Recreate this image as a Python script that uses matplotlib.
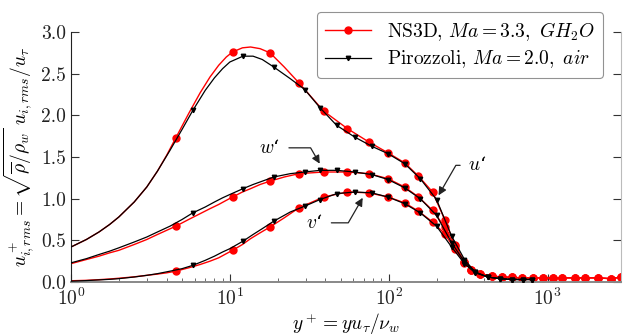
import numpy as np
import matplotlib
matplotlib.use("Agg")
import matplotlib.pyplot as plt
from matplotlib.ticker import FormatStrFormatter, LogLocator

plt.rcParams["font.family"] = ["cmr10", "DejaVu Serif"]
plt.rcParams["mathtext.fontset"] = "cm"
plt.rcParams["axes.formatter.use_mathtext"] = True

# NS3D, Ma = 3.3, GH2O
ns3d_yplus = [1, 1.25, 1.5, 1.75, 2, 2.5, 3, 3.5, 4, 4.57, 5.5, 6.5, 7.5, 8.5, 9.5, 10.4,
              12, 13.5, 15.5, 17.9, 22, 27.2, 39, 55, 75, 99, 126, 154, 189, 225, 260,
              300, 332, 373, 444, 514, 594, 686, 805, 931, 1075, 1241, 1479, 1710, 2063,
              2500, 2919]
ns3d_u = [0.42, 0.51, 0.60, 0.69, 0.78, 0.96, 1.14, 1.33, 1.52, 1.73, 2.02, 2.27, 2.46, 2.60,
          2.70, 2.76, 2.81, 2.82, 2.80, 2.75, 2.58, 2.39, 2.05, 1.84, 1.68, 1.55, 1.43, 1.27,
          1.08, 0.75, 0.45, 0.24, 0.15, 0.10, 0.07, 0.06, 0.055, 0.05, 0.05, 0.05, 0.05,
          0.05, 0.05, 0.05, 0.05, 0.04, 0.06]
ns3d_w = [0.22, 0.27, 0.31, 0.35, 0.38, 0.45, 0.51, 0.57, 0.62, 0.67, 0.75, 0.82, 0.88, 0.93,
          0.98, 1.02, 1.08, 1.12, 1.17, 1.21, 1.26, 1.30, 1.32, 1.32, 1.30, 1.24, 1.14, 1.02,
          0.86, 0.66, 0.43, 0.24, 0.15, 0.10, 0.07, 0.06, 0.055, 0.05, 0.05, 0.05, 0.05,
          0.05, 0.05, 0.05, 0.05, 0.04, 0.06]
ns3d_v = [0.015, 0.02, 0.028, 0.036, 0.045, 0.062, 0.08, 0.095, 0.11, 0.13, 0.17, 0.21, 0.25,
          0.29, 0.34, 0.38, 0.45, 0.52, 0.59, 0.66, 0.77, 0.89, 1.02, 1.08, 1.07, 1.02, 0.95,
          0.85, 0.72, 0.58, 0.40, 0.23, 0.15, 0.10, 0.07, 0.06, 0.055, 0.05, 0.05, 0.05,
          0.05, 0.05, 0.05, 0.05, 0.05, 0.04, 0.06]

# Pirozzoli, Ma = 2.0, air
piro_yplus = [1, 1.25, 1.5, 1.75, 2, 2.5, 3, 3.5, 4.2, 5.0, 5.85, 7, 8, 9, 10, 12.1, 14, 16,
              18.9, 24, 29.6, 37, 47, 61, 78, 99, 126, 158, 200, 249, 300, 350, 420, 500,
              600, 700, 800]
piro_u = [0.42, 0.51, 0.60, 0.69, 0.78, 0.96, 1.14, 1.33, 1.58, 1.83, 2.06, 2.30, 2.45, 2.56,
          2.64, 2.71, 2.71, 2.67, 2.58, 2.44, 2.31, 2.09, 1.88, 1.74, 1.63, 1.54, 1.42, 1.24,
          0.99, 0.55, 0.27, 0.12, 0.06, 0.04, 0.03, 0.03, 0.03]
piro_w = [0.23, 0.28, 0.33, 0.37, 0.41, 0.48, 0.54, 0.60, 0.67, 0.75, 0.83, 0.90, 0.96, 1.01,
          1.05, 1.12, 1.17, 1.21, 1.26, 1.30, 1.32, 1.34, 1.34, 1.32, 1.29, 1.23, 1.13, 1.00,
          0.80, 0.47, 0.24, 0.12, 0.06, 0.04, 0.03, 0.03, 0.03]
piro_v = [0.01, 0.017, 0.025, 0.032, 0.04, 0.06, 0.08, 0.10, 0.13, 0.16, 0.20, 0.26, 0.31,
          0.36, 0.40, 0.49, 0.57, 0.64, 0.73, 0.84, 0.91, 0.99, 1.06, 1.08, 1.07, 1.02, 0.94,
          0.83, 0.67, 0.42, 0.22, 0.11, 0.06, 0.04, 0.03, 0.03, 0.03]

ns3d_marks = [ns3d_yplus.index(x) for x in (4.57, 10.4, 17.9)] + \
    list(range(ns3d_yplus.index(27.2), len(ns3d_yplus)))
piro_marks = [piro_yplus.index(x) for x in (5.85, 12.1, 18.9)] + \
    list(range(piro_yplus.index(29.6), len(piro_yplus)))

fig = plt.figure(figsize=(6.23, 3.36), dpi=100)
ax = fig.add_axes([71 / 623, 54 / 336, 550 / 623, 250 / 336])

red = "#ff0000"
for i, vals in enumerate([ns3d_u, ns3d_w, ns3d_v]):
    ax.plot(ns3d_yplus, vals, color=red, lw=1.0, marker="o", ms=5,
            markevery=ns3d_marks, label="NS3D, $Ma = 3.3,\\ GH_2O$" if i == 0 else None,
            zorder=2)
for i, vals in enumerate([piro_u, piro_w, piro_v]):
    ax.plot(piro_yplus, vals, color="black", lw=0.9, marker="v", ms=3.2,
            markevery=piro_marks, label="Pirozzoli, $Ma = 2.0,\\ air$" if i == 0 else None,
            zorder=3)

ax.set_xscale("log")
ax.set_xlim(1, 2900)
ax.set_ylim(0, 3.0)
ax.set_yticks(np.arange(0, 3.01, 0.5))
ax.yaxis.set_major_formatter(FormatStrFormatter("%.1f"))
ax.xaxis.set_major_locator(LogLocator(base=10))
ax.xaxis.set_minor_locator(LogLocator(base=10, subs=np.arange(2, 10)))

ax.spines["top"].set_visible(False)
ax.spines["left"].set_color("#222222")
ax.spines["bottom"].set_color("#888888")
ax.spines["bottom"].set_linewidth(1.4)
ax.spines["right"].set_color("#bbbbbb")
ax.tick_params(axis="both", which="major", direction="in", length=6, labelsize=14,
               colors="#333333", labelcolor="#222222")
ax.tick_params(axis="x", which="minor", direction="in", length=3, colors="#555555")
ax.tick_params(axis="y", right=True, which="major")
ax.tick_params(axis="x", which="major", pad=4)

ax.set_xlabel(r"$y^+ = y u_\tau / \nu_w$", fontsize=14, labelpad=2)
ax.set_ylabel(r"$u^+_{i,rms} = \sqrt{\overline{\rho}/\rho_w}\ u_{i,rms}/u_\tau$",
              fontsize=14, labelpad=4)

arrow = dict(arrowstyle="-|>", color="#222222", lw=0.9, mutation_scale=12,
             shrinkA=4, shrinkB=0)
ax.annotate(r"$w$‘", xy=(36.8, 1.42), xytext=(17.9, 1.61), fontsize=14,
            family="DejaVu Serif", ha="center", va="center",
            arrowprops=dict(arrow, connectionstyle="angle,angleA=0,angleB=-60,rad=0"))
ax.annotate(r"$u$‘", xy=(206, 1.04), xytext=(363, 1.40), fontsize=14,
            family="DejaVu Serif", ha="center", va="center",
            arrowprops=dict(arrow, connectionstyle="angle,angleA=0,angleB=60,rad=0"))
ax.annotate(r"$v$‘", xy=(68.6, 1.01), xytext=(34.2, 0.71), fontsize=14,
            family="DejaVu Serif", ha="center", va="center",
            arrowprops=dict(arrow, connectionstyle="angle,angleA=0,angleB=60,rad=0"))

leg = ax.legend(loc="upper right", bbox_to_anchor=(0.967, 1.08), borderaxespad=0,
                fontsize=14, frameon=True, fancybox=True, edgecolor="#777777",
                handlelength=2.4, labelspacing=0.3, borderpad=0.4)
leg.get_frame().set_linewidth(0.8)

fig.savefig("out.png", dpi=100)
